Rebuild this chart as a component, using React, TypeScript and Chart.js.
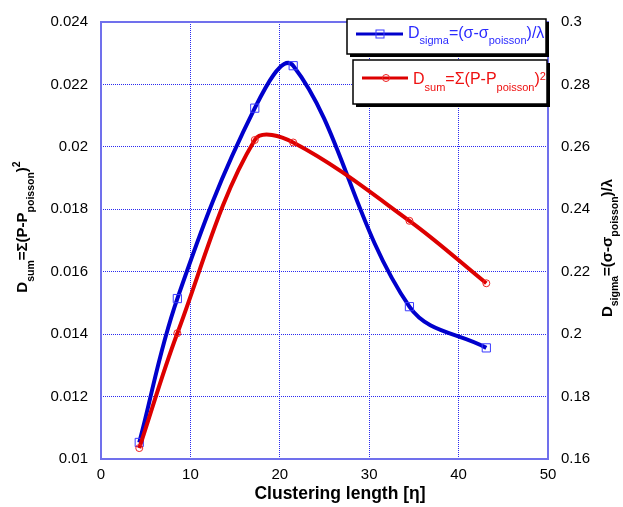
import React, { useEffect, useRef } from "react";
import { Chart, registerables } from "chart.js";

Chart.register(...registerables);

// ---- data ----
const clusteringLength = [4.28, 8.54, 17.2, 21.5, 34.5, 43.1];
const dSigmaValues = [0.1653, 0.2114, 0.2724, 0.286, 0.2088, 0.1956];
const dSumValues = [0.01035, 0.01403, 0.02022, 0.02014, 0.01763, 0.01563];
const xTickValues = [0, 10, 20, 30, 40, 50];
const leftTickValues = [0.01, 0.012, 0.014, 0.016, 0.018, 0.02, 0.022, 0.024];
const rightTickValues = [0.16, 0.18, 0.2, 0.22, 0.24, 0.26, 0.28, 0.3];

const FONT = '"Liberation Sans", Arial, Helvetica, sans-serif';
const BLUE_LINE = "#0000cc";
const RED_LINE = "#dd0000";
const BLUE_MARK = "#3a3aff";
const RED_MARK = "#ee2020";
const BLUE_TEXT = "#2b2bff";
const RED_TEXT = "#ee1111";

type Seg = { t: string; size: number; dy: number; bold?: boolean };

function drawRich(
  ctx: CanvasRenderingContext2D,
  segs: Seg[],
  x: number,
  y: number,
  color: string,
  align: "left" | "center"
) {
  const widths: number[] = [];
  let total = 0;
  segs.forEach((s) => {
    ctx.font = `${s.bold ? "bold " : ""}${s.size}px ${FONT}`;
    const w = ctx.measureText(s.t).width;
    widths.push(w);
    total += w;
  });
  let cx = align === "center" ? x - total / 2 : x;
  ctx.fillStyle = color;
  ctx.textAlign = "left";
  ctx.textBaseline = "alphabetic";
  segs.forEach((s, i) => {
    ctx.font = `${s.bold ? "bold " : ""}${s.size}px ${FONT}`;
    ctx.fillText(s.t, cx, y + s.dy);
    cx += widths[i];
  });
}

const leftTitle: Seg[] = [
  { t: "D", size: 15, dy: 0, bold: true },
  { t: "sum", size: 10.5, dy: 7, bold: true },
  { t: "=Σ(P-P", size: 15, dy: 0, bold: true },
  { t: "poisson", size: 10.5, dy: 7, bold: true },
  { t: ")", size: 15, dy: 0, bold: true },
  { t: "2", size: 10.5, dy: -7, bold: true },
];
const rightTitle: Seg[] = [
  { t: "D", size: 15, dy: 0, bold: true },
  { t: "sigma", size: 10.5, dy: 6, bold: true },
  { t: "=(σ-σ", size: 15, dy: 0, bold: true },
  { t: "poisson", size: 10.5, dy: 6, bold: true },
  { t: ")/λ", size: 15, dy: 0, bold: true },
];
const legendSigma: Seg[] = [
  { t: "D", size: 16, dy: 0 },
  { t: "sigma", size: 11, dy: 6 },
  { t: "=(σ-σ", size: 16, dy: 0 },
  { t: "poisson", size: 11, dy: 6 },
  { t: ")/λ", size: 16, dy: 0 },
];
const legendSum: Seg[] = [
  { t: "D", size: 16, dy: 0 },
  { t: "sum", size: 11, dy: 7 },
  { t: "=Σ(P-P", size: 16, dy: 0 },
  { t: "poisson", size: 11, dy: 7 },
  { t: ")", size: 16, dy: 0 },
  { t: "2", size: 11, dy: -4 },
];

function shadowBox(ctx: CanvasRenderingContext2D, x: number, y: number, w: number, h: number) {
  ctx.fillStyle = "#000";
  ctx.fillRect(x + 3, y + 3, w, h);
  ctx.fillStyle = "#fff";
  ctx.fillRect(x, y, w, h);
  ctx.strokeStyle = "#000";
  ctx.lineWidth = 1.5;
  ctx.strokeRect(x, y, w, h);
}

const decorPlugin = {
  id: "decor",
  beforeDatasetsDraw(chart: any) {
    const { ctx, chartArea: a } = chart;
    ctx.save();
    ctx.strokeStyle = "#7070ec";
    ctx.lineWidth = 2;
    ctx.strokeRect(a.left, a.top, a.right - a.left, a.bottom - a.top);
    ctx.restore();
  },
  afterDraw(chart: any) {
    const { ctx } = chart;
    ctx.save();
    // legend box 1 (sigma)
    shadowBox(ctx, 347, 19, 199, 35);
    ctx.strokeStyle = BLUE_LINE;
    ctx.lineWidth = 3;
    ctx.beginPath();
    ctx.moveTo(356, 34);
    ctx.lineTo(403, 34);
    ctx.stroke();
    ctx.strokeStyle = BLUE_MARK;
    ctx.lineWidth = 1;
    ctx.strokeRect(376, 30, 8, 8);
    drawRich(ctx, legendSigma, 408, 38, BLUE_TEXT, "left");
    // legend box 2 (sum)
    shadowBox(ctx, 353, 60, 194, 44);
    ctx.strokeStyle = RED_LINE;
    ctx.lineWidth = 3;
    ctx.beginPath();
    ctx.moveTo(362, 78);
    ctx.lineTo(408, 78);
    ctx.stroke();
    ctx.strokeStyle = RED_MARK;
    ctx.lineWidth = 1;
    ctx.beginPath();
    ctx.arc(386, 78, 3.5, 0, Math.PI * 2);
    ctx.stroke();
    drawRich(ctx, legendSum, 413, 84, RED_TEXT, "left");

    // axis titles
    ctx.save();
    ctx.translate(27, 227);
    ctx.rotate(-Math.PI / 2);
    drawRich(ctx, leftTitle, 0, 0, "#000", "center");
    ctx.restore();

    ctx.save();
    ctx.translate(612, 248);
    ctx.rotate(-Math.PI / 2);
    drawRich(ctx, rightTitle, 0, 0, "#000", "center");
    ctx.restore();

    ctx.font = `bold 17.5px ${FONT}`;
    ctx.fillStyle = "#000";
    ctx.textAlign = "center";
    ctx.textBaseline = "alphabetic";
    ctx.fillText("Clustering length [η]", 340, 499);
    ctx.restore();
  },
};

const fmt = (v: any) => String(parseFloat(Number(v).toFixed(4)));

export default function App() {
  const ref = useRef<HTMLCanvasElement | null>(null);

  useEffect(() => {
    if (!ref.current) return;
    const gridStyle = { color: "#2a2af0", lineWidth: 1, drawTicks: false };
    const tickFont = { family: FONT, size: 15 };
    const chart = new Chart(ref.current, {
      type: "line",
      data: {
        datasets: [
          {
            label: "D_sum",
            data: clusteringLength.map((x, i) => ({ x, y: dSumValues[i] })),
            yAxisID: "y",
            borderColor: RED_LINE,
            borderWidth: 4,
            tension: 0.35,
            fill: false,
            pointStyle: "circle",
            pointRadius: 3.5,
            pointBorderWidth: 1,
            pointBorderColor: RED_MARK,
            pointBackgroundColor: "rgba(0,0,0,0)",
          },
          {
            label: "D_sigma",
            data: clusteringLength.map((x, i) => ({ x, y: dSigmaValues[i] })),
            yAxisID: "y2",
            borderColor: BLUE_LINE,
            borderWidth: 4,
            tension: 0.38,
            fill: false,
            pointStyle: "rect",
            pointRadius: 5.8,
            pointBorderWidth: 1,
            pointBorderColor: BLUE_MARK,
            pointBackgroundColor: "rgba(0,0,0,0)",
          },
        ],
      },
      options: {
        animation: false,
        responsive: true,
        maintainAspectRatio: false,
        layout: { padding: { top: 19, left: 0, right: 0, bottom: 0 } },
        plugins: { legend: { display: false }, tooltip: { enabled: false } },
        scales: {
          x: {
            type: "linear",
            position: "bottom",
            min: 0,
            max: 50,
            afterBuildTicks: (s: any) => {
              s.ticks = xTickValues.map((value) => ({ value }));
            },
            afterFit: (s: any) => {
              s.height = 48;
            },
            grid: gridStyle,
            border: { display: false, dash: [1, 1] },
            ticks: { font: tickFont, color: "#000", padding: 7, callback: fmt, maxRotation: 0 },
          },
          y: {
            type: "linear",
            position: "left",
            min: 0.01,
            max: 0.024,
            afterBuildTicks: (s: any) => {
              s.ticks = leftTickValues.map((value) => ({ value }));
            },
            afterFit: (s: any) => {
              s.width = 101;
            },
            grid: gridStyle,
            border: { display: false, dash: [1, 1] },
            ticks: { font: tickFont, color: "#000", padding: 13, callback: fmt },
          },
          y2: {
            type: "linear",
            position: "right",
            min: 0.16,
            max: 0.3,
            afterBuildTicks: (s: any) => {
              s.ticks = rightTickValues.map((value) => ({ value }));
            },
            afterFit: (s: any) => {
              s.width = 75;
            },
            grid: { display: false, drawTicks: false },
            border: { display: false },
            ticks: { font: tickFont, color: "#000", padding: 13, callback: fmt },
          },
        },
      },
      plugins: [decorPlugin],
    } as any);
    return () => chart.destroy();
  }, []);

  return (
    <div
      style={{
        position: "fixed",
        left: 0,
        top: 0,
        width: 623,
        height: 507,
        background: "#fff",
      }}
    >
      <canvas ref={ref} />
    </div>
  );
}
